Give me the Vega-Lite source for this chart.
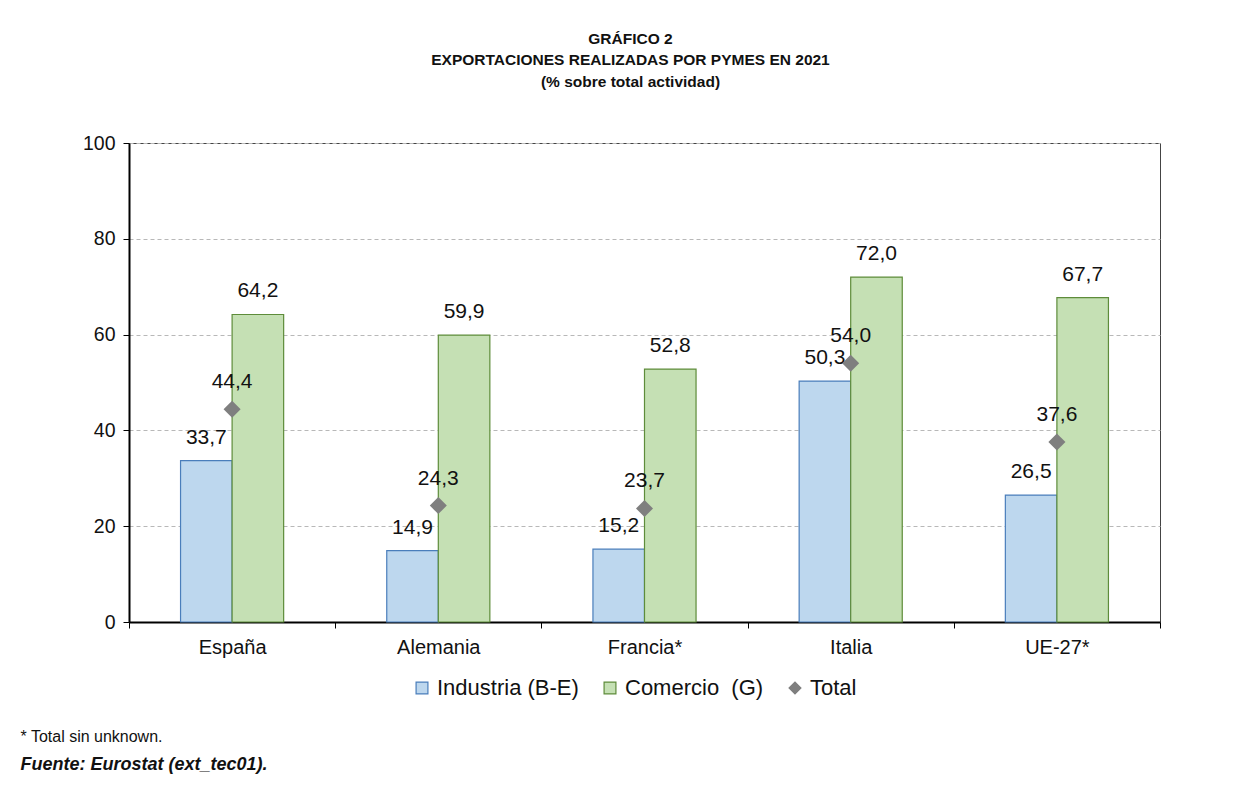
{
  "$schema": "https://vega.github.io/schema/vega-lite/v6.json",
  "autosize": {"type": "none"},
  "width": 1031,
  "height": 479,
  "padding": {"left": 129, "top": 143, "right": 100, "bottom": 165},
  "background": "white",
  "config": {
    "font": "Liberation Sans",
    "locale": {"number": {"decimal": ",", "thousands": ".", "grouping": [3], "currency": ["", " €"]}},
    "view": {"stroke": "#444444", "strokeWidth": 1}
  },
  "title": {
    "text": ["GRÁFICO 2", "EXPORTACIONES REALIZADAS POR PYMES EN 2021", "(% sobre total actividad)"],
    "fontSize": 15.5,
    "fontWeight": "bold",
    "color": "#111111",
    "lineHeight": 21.5,
    "anchor": "middle",
    "dx": -14,
    "offset": 43
  },
  "data": {
    "values": [
      {"pais": "España", "serie": "Industria (B-E)", "valor": 33.7},
      {"pais": "España", "serie": "Comercio\u00a0\u00a0(G)", "valor": 64.2},
      {"pais": "España", "serie": "Total", "valor": 44.4},
      {"pais": "Alemania", "serie": "Industria (B-E)", "valor": 14.9},
      {"pais": "Alemania", "serie": "Comercio\u00a0\u00a0(G)", "valor": 59.9},
      {"pais": "Alemania", "serie": "Total", "valor": 24.3},
      {"pais": "Francia*", "serie": "Industria (B-E)", "valor": 15.2},
      {"pais": "Francia*", "serie": "Comercio\u00a0\u00a0(G)", "valor": 52.8},
      {"pais": "Francia*", "serie": "Total", "valor": 23.7},
      {"pais": "Italia", "serie": "Industria (B-E)", "valor": 50.3},
      {"pais": "Italia", "serie": "Comercio\u00a0\u00a0(G)", "valor": 72.0},
      {"pais": "Italia", "serie": "Total", "valor": 54.0},
      {"pais": "UE-27*", "serie": "Industria (B-E)", "valor": 26.5},
      {"pais": "UE-27*", "serie": "Comercio\u00a0\u00a0(G)", "valor": 67.7},
      {"pais": "UE-27*", "serie": "Total", "valor": 37.6}
    ]
  },
  "encoding": {
    "x": {
      "field": "pais",
      "type": "nominal",
      "sort": null,
      "scale": {"paddingInner": 0, "paddingOuter": 0},
      "axis": {
        "title": "Fuente: Eurostat (ext_tec01).",
        "titleFontSize": 18,
        "titleFontWeight": "bold",
        "titleFontStyle": "italic",
        "titleColor": "#111111",
        "titleAnchor": "start",
        "titleAlign": "left",
        "titleBaseline": "alphabetic",
        "titleX": -109,
        "titleY": 147,
        "labelAngle": 0,
        "labelFontSize": 20,
        "labelColor": "#111111",
        "labelPadding": 9,
        "tickBand": "extent",
        "tickSize": 6,
        "tickColor": "#000000",
        "domainColor": "#000000",
        "domainWidth": 2,
        "grid": false
      }
    },
    "y": {
      "field": "valor",
      "type": "quantitative",
      "scale": {"domain": [0, 100], "nice": false},
      "axis": {
        "values": [0, 20, 40, 60, 80, 100],
        "title": "* Total sin unknown.",
        "titleFontSize": 16,
        "titleFontWeight": "normal",
        "titleColor": "#111111",
        "titleAngle": 0,
        "titleAnchor": "start",
        "titleAlign": "left",
        "titleBaseline": "alphabetic",
        "titleX": -109,
        "titleY": 598,
        "labelFontSize": 19.5,
        "labelColor": "#111111",
        "labelPadding": 8,
        "tickSize": 6,
        "tickColor": "#000000",
        "domainColor": "#000000",
        "domainWidth": 2,
        "grid": true,
        "gridColor": "#b8b8b8",
        "gridDash": [4, 3],
        "gridWidth": 1
      }
    }
  },
  "layer": [
    {
      "transform": [{"filter": "datum.serie !== 'Total'"}],
      "mark": {"type": "bar", "strokeWidth": 1.2},
      "encoding": {
        "xOffset": {
          "field": "serie",
          "type": "nominal",
          "sort": ["Industria (B-E)", "Comercio\u00a0\u00a0(G)"],
          "scale": {"paddingInner": 0, "paddingOuter": 1.1}
        },
        "fill": {
          "field": "serie",
          "type": "nominal",
          "scale": {
            "domain": ["Industria (B-E)", "Comercio\u00a0\u00a0(G)", "Total"],
            "range": ["#bdd7ee", "#c5e0b4", "#7f7f7f"]
          },
          "legend": {
            "title": null,
            "orient": "none",
            "direction": "horizontal",
            "legendX": 282,
            "legendY": 534,
            "labelFontSize": 22,
            "labelColor": "#111111",
            "labelLimit": 300,
            "symbolSize": 140,
            "symbolStrokeWidth": 1.2,
            "columnPadding": 20,
            "labelOffset": 4
          }
        },
        "stroke": {
          "field": "serie",
          "type": "nominal",
          "scale": {
            "domain": ["Industria (B-E)", "Comercio\u00a0\u00a0(G)", "Total"],
            "range": ["#4a7ebb", "#5e8c3a", "#7f7f7f"]
          },
          "legend": null
        }
      }
    },
    {
      "transform": [{"filter": "datum.serie !== 'Total'"}],
      "mark": {"type": "text", "fontSize": 21, "color": "#111111", "baseline": "alphabetic", "dy": -17},
      "encoding": {
        "xOffset": {
          "field": "serie",
          "type": "nominal",
          "sort": ["Industria (B-E)", "Comercio\u00a0\u00a0(G)"]
        },
        "text": {"field": "valor", "type": "quantitative", "format": ".1f"}
      }
    },
    {
      "transform": [{"filter": "datum.serie === 'Total'"}],
      "mark": {"type": "point", "filled": true, "size": 290, "opacity": 1},
      "encoding": {
        "fill": {"field": "serie", "type": "nominal"},
        "shape": {
          "field": "serie",
          "type": "nominal",
          "scale": {
            "domain": ["Industria (B-E)", "Comercio\u00a0\u00a0(G)", "Total"],
            "range": ["square", "square", "diamond"]
          },
          "legend": null
        }
      }
    },
    {
      "transform": [{"filter": "datum.serie === 'Total'"}],
      "mark": {"type": "text", "fontSize": 21, "color": "#111111", "baseline": "alphabetic", "dy": -21},
      "encoding": {
        "text": {"field": "valor", "type": "quantitative", "format": ".1f"}
      }
    }
  ]
}
